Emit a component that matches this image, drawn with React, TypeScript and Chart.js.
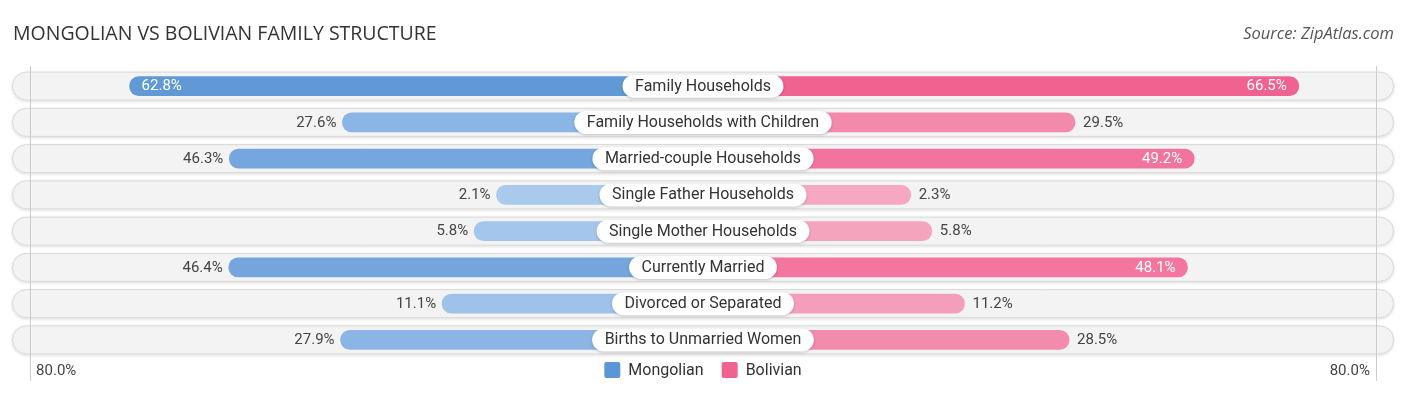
import React, { useEffect, useRef } from "react";
import { Chart, registerables } from "chart.js";

Chart.register(...registerables);

const categories = [
  "Family Households",
  "Family Households with Children",
  "Married-couple Households",
  "Single Father Households",
  "Single Mother Households",
  "Currently Married",
  "Divorced or Separated",
  "Births to Unmarried Women",
];
const mongolian = [62.8, 27.6, 46.3, 2.1, 5.8, 46.4, 11.1, 27.9];
const bolivian = [66.5, 29.5, 49.2, 2.3, 5.8, 48.1, 11.2, 28.5];
const seriesNames = ["Mongolian", "Bolivian"];
const axisMax = 80;
const axisTickLabel = "80.0%";
const title = "MONGOLIAN VS BOLIVIAN FAMILY STRUCTURE";
const source = "Source: ZipAtlas.com";

// style constants
const OFFSET = 32.05; // visual base length of every bar (value units)
const SPAN = 114.3;
const GRID_INSET = 4.5; // px
const INSIDE_THRESHOLD = 47;
const FONT = "Roboto, 'Noto Sans', sans-serif";

type RGB = [number, number, number];
const BLUE_DARK: RGB = [93, 150, 214];
const BLUE_LIGHT: RGB = [172, 203, 238];
const PINK_DARK: RGB = [240, 98, 143];
const PINK_LIGHT: RGB = [246, 170, 195];

function mix(a: RGB, b: RGB, t: number): string {
  const c = a.map((x, i) => Math.round(x + (b[i] - x) * t));
  return `rgb(${c[0]},${c[1]},${c[2]})`;
}
function shade(light: RGB, dark: RGB, v: number): string {
  const t = Math.max(0, Math.min(1, v / 66));
  return mix(light, dark, t);
}

function roundRect(ctx: CanvasRenderingContext2D, x: number, y: number, w: number, h: number, r: number) {
  ctx.beginPath();
  ctx.moveTo(x + r, y);
  ctx.lineTo(x + w - r, y);
  ctx.arc(x + w - r, y + r, r, -Math.PI / 2, 0);
  ctx.lineTo(x + w, y + h - r);
  ctx.arc(x + w - r, y + h - r, r, 0, Math.PI / 2);
  ctx.lineTo(x + r, y + h);
  ctx.arc(x + r, y + h - r, r, Math.PI / 2, Math.PI);
  ctx.lineTo(x, y + r);
  ctx.arc(x + r, y + r, r, Math.PI, Math.PI * 1.5);
  ctx.closePath();
}

const backgroundPlugin = {
  id: "rowsBackground",
  beforeDatasetsDraw(chart: any) {
    const { ctx, chartArea, scales } = chart;
    const ys = scales.y;
    const xs = scales.x;
    ctx.save();
    categories.forEach((_, i) => {
      const y = ys.getPixelForValue(i);
      const h = 29;
      ctx.save();
      ctx.shadowColor = "rgba(0,0,0,0.14)";
      ctx.shadowBlur = 3;
      ctx.shadowOffsetY = 1;
      roundRect(ctx, chartArea.left, y - h / 2, chartArea.right - chartArea.left, h, h / 2);
      ctx.fillStyle = "#f3f3f3";
      ctx.fill();
      ctx.restore();
      roundRect(ctx, chartArea.left + 0.5, y - h / 2 + 0.5, chartArea.right - chartArea.left - 1, h - 1, (h - 1) / 2);
      ctx.strokeStyle = "#d9d9d9";
      ctx.lineWidth = 1;
      ctx.stroke();
    });
    // grid lines at ±80%
    ctx.strokeStyle = "#cccccc";
    ctx.lineWidth = 1;
    [-1, 1].forEach((s) => {
      const x = Math.round(xs.getPixelForValue(s * (OFFSET + axisMax)) - s * GRID_INSET) + 0.5;
      ctx.beginPath();
      ctx.moveTo(x, chartArea.top - 2);
      ctx.lineTo(x, 381);
      ctx.stroke();
    });
    ctx.restore();
  },
};

const overlayPlugin = {
  id: "overlay",
  afterDatasetsDraw(chart: any) {
    const { ctx, scales } = chart;
    const ys = scales.y;
    const xs = scales.x;
    const cx = xs.getPixelForValue(0);
    ctx.save();
    ctx.textBaseline = "middle";
    categories.forEach((cat, i) => {
      const y = ys.getPixelForValue(i);
      // center label pill
      ctx.font = `16px ${FONT}`;
      const tw = ctx.measureText(cat).width;
      const pw = tw + 25;
      const ph = 23;
      ctx.save();
      ctx.shadowColor = "rgba(0,0,0,0.2)";
      ctx.shadowBlur = 3;
      ctx.shadowOffsetY = 1;
      roundRect(ctx, cx - pw / 2, y - ph / 2, pw, ph, ph / 2);
      ctx.fillStyle = "#ffffff";
      ctx.fill();
      ctx.restore();
      ctx.fillStyle = "#333333";
      ctx.textAlign = "center";
      ctx.fillText(cat, cx, y + 0.5);

      // value labels
      ctx.font = `15px ${FONT}`;
      const mv = mongolian[i];
      const mx = xs.getPixelForValue(-(OFFSET + mv));
      if (mv >= INSIDE_THRESHOLD) {
        ctx.fillStyle = "#ffffff";
        ctx.textAlign = "left";
        ctx.fillText(`${mv.toFixed(1)}%`, mx + 12, y + 0.5);
      } else {
        ctx.fillStyle = "#444444";
        ctx.textAlign = "right";
        ctx.fillText(`${mv.toFixed(1)}%`, mx - 6, y + 0.5);
      }
      const bv = bolivian[i];
      const bx = xs.getPixelForValue(OFFSET + bv);
      if (bv >= INSIDE_THRESHOLD) {
        ctx.fillStyle = "#ffffff";
        ctx.textAlign = "right";
        ctx.fillText(`${bv.toFixed(1)}%`, bx - 12, y + 0.5);
      } else {
        ctx.fillStyle = "#444444";
        ctx.textAlign = "left";
        ctx.fillText(`${bv.toFixed(1)}%`, bx + 8, y + 0.5);
      }
    });

    // axis labels
    ctx.font = `15px ${FONT}`;
    ctx.fillStyle = "#444444";
    const lx = xs.getPixelForValue(-(OFFSET + axisMax)) + GRID_INSET;
    const rx = xs.getPixelForValue(OFFSET + axisMax) - GRID_INSET;
    ctx.textAlign = "left";
    ctx.fillText(axisTickLabel, lx + 6, 371);
    ctx.textAlign = "right";
    ctx.fillText(axisTickLabel, rx - 6, 371);

    // legend
    ctx.font = `16px ${FONT}`;
    const colors = [mix(BLUE_LIGHT, BLUE_DARK, 1), mix(PINK_LIGHT, PINK_DARK, 1)];
    const widths = seriesNames.map((n) => ctx.measureText(n).width);
    const box = 16;
    const gapText = 8;
    const gapItems = 18;
    const total = widths.reduce((a, w) => a + box + gapText + w, 0) + gapItems;
    let x = cx - total / 2;
    const ly = 370;
    seriesNames.forEach((n, k) => {
      roundRect(ctx, x, ly - box / 2, box, box, 2);
      ctx.fillStyle = colors[k];
      ctx.fill();
      ctx.fillStyle = "#333333";
      ctx.textAlign = "left";
      ctx.fillText(n, x + box + gapText, ly + 0.5);
      x += box + gapText + widths[k] + gapItems;
    });

    // title & source
    ctx.textBaseline = "alphabetic";
    ctx.font = `19.5px 'Open Sans', sans-serif`;
    ctx.fillStyle = "#333333";
    ctx.textAlign = "left";
    ctx.fillText(title, 13, 40);
    ctx.font = `italic 16.5px 'Open Sans', sans-serif`;
    ctx.fillStyle = "#555555";
    ctx.textAlign = "right";
    ctx.fillText(source, 1394, 39);
    ctx.restore();
  },
};

export default function App() {
  const ref = useRef<HTMLCanvasElement | null>(null);
  useEffect(() => {
    if (!ref.current) return;
    const chart = new Chart(ref.current, {
      type: "bar",
      data: {
        labels: categories,
        datasets: [
          {
            label: seriesNames[0],
            data: mongolian.map((v) => [-(OFFSET + v), 0]) as any,
            backgroundColor: mongolian.map((v) => shade(BLUE_LIGHT, BLUE_DARK, v)),
            borderRadius: 10,
            borderSkipped: false,
            barThickness: 19,
            grouped: false,
          },
          {
            label: seriesNames[1],
            data: bolivian.map((v) => [0, OFFSET + v]) as any,
            backgroundColor: bolivian.map((v) => shade(PINK_LIGHT, PINK_DARK, v)),
            borderRadius: 10,
            borderSkipped: false,
            barThickness: 19,
            grouped: false,
          },
        ],
      },
      options: {
        indexAxis: "y",
        animation: false,
        responsive: false,
        devicePixelRatio: 1,
        layout: { padding: { left: 12, right: 12, top: 68, bottom: 37 } },
        scales: {
          x: { display: false, min: -SPAN, max: SPAN, stacked: false },
          y: { display: false, offset: true },
        },
        plugins: {
          legend: { display: false },
          tooltip: { enabled: false },
          title: { display: false },
        },
      },
      plugins: [backgroundPlugin, overlayPlugin],
    });
    return () => chart.destroy();
  }, []);
  return (
    <div style={{ position: "absolute", left: 0, top: 0, width: 1406, height: 395, background: "#fff" }}>
      <canvas ref={ref} width={1406} height={395} />
    </div>
  );
}
